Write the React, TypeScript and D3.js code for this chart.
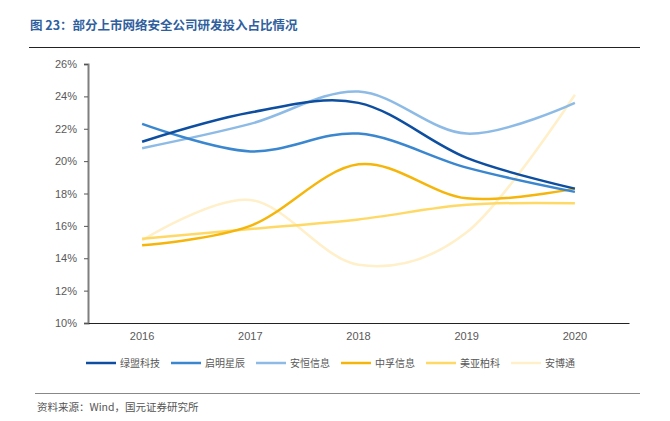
import React, { useEffect, useRef } from 'react';
import * as d3 from 'd3';

const years = ['2016', '2017', '2018', '2019', '2020'];
const seriesNames = ['绿盟科技', '启明星辰', '安恒信息', '中孚信息', '美亚柏科', '安博通'];
const lvmeng = [21.2, 23.0, 23.6, 20.2, 18.3];
const qiming = [22.3, 20.6, 21.7, 19.6, 18.1];
const anheng = [20.8, 22.3, 24.3, 21.7, 23.6];
const zhongfu = [14.8, 16.0, 19.8, 17.7, 18.3];
const meiya = [15.2, 15.8, 16.4, 17.3, 17.4];
const anbotong = [15.1, 17.6, 13.6, 15.6, 24.1];
const yTicks = [10, 12, 14, 16, 18, 20, 22, 24, 26];
const colors = ['#0D4EA0', '#3A87D0', '#8DBBE6', '#F5B50A', '#FFD966', '#FFF0CA'];

const W = 670;
const H = 421;

const App: React.FC = () => {
  const svgRef = useRef<SVGSVGElement>(null);

  useEffect(() => {
    if (!svgRef.current) return;
    const svg = d3.select(svgRef.current);
    svg.selectAll('*').remove();

    const font = 'Arial, "Liberation Sans", "Noto Sans CJK SC", sans-serif';
    const left = 88, right = 629, top = 64, bottom = 323;

    // Title
    svg.append('text')
      .attr('x', 30).attr('y', 30)
      .attr('fill', '#2F5F9E')
      .style('font-family', '"Noto Sans CJK SC", sans-serif')
      .style('font-size', '12.5px')
      .style('font-weight', 'bold')
      .text('图 23：部分上市网络安全公司研发投入占比情况');
    svg.append('line')
      .attr('x1', 29).attr('x2', 640).attr('y1', 47.5).attr('y2', 47.5)
      .attr('stroke', '#222').attr('stroke-width', 1.2);

    const x = d3.scaleBand().domain(years).range([left, right]);
    const y = d3.scaleLinear().domain([10, 26]).range([bottom, top]);

    // Y axis
    const yAxis = svg.append('g')
      .attr('transform', `translate(${left},0)`)
      .call(d3.axisLeft(y).tickValues(yTicks).tickSize(4).tickPadding(7).tickFormat(d => `${d}%`));
    yAxis.select('.domain').attr('stroke', '#7f7f7f').attr('stroke-width', 2);
    yAxis.selectAll('.tick line').attr('stroke', '#555');
    yAxis.selectAll('.tick text')
      .attr('fill', '#595959')
      .style('font-family', font)
      .style('font-size', '11px');

    // X axis
    const xAxis = svg.append('g')
      .attr('transform', `translate(0,${bottom})`)
      .call(d3.axisBottom(x).tickSize(0).tickPadding(9));
    xAxis.select('.domain').attr('stroke', '#222').attr('stroke-width', 1.2);
    xAxis.selectAll('.tick text')
      .attr('fill', '#595959')
      .style('font-family', font)
      .style('font-size', '11px');

    const all = [lvmeng, qiming, anheng, zhongfu, meiya, anbotong];
    const line = d3.line<number>()
      .x((_, i) => (x(years[i]) as number) + x.bandwidth() / 2)
      .y(d => y(d))
      .curve(d3.curveCardinal.tension(0));

    // draw lighter ones first so dark ones stay on top
    [5, 4, 3, 2, 1, 0].forEach(k => {
      svg.append('path')
        .datum(all[k])
        .attr('fill', 'none')
        .attr('stroke', colors[k])
        .attr('stroke-width', 2.5)
        .attr('d', line);
    });

    // Legend
    const lg = svg.append('g').attr('transform', 'translate(86,363)');
    seriesNames.forEach((name, i) => {
      const g = lg.append('g').attr('transform', `translate(${i * 85},0)`);
      g.append('line')
        .attr('x1', 0).attr('x2', 30).attr('y1', 0).attr('y2', 0)
        .attr('stroke', colors[i]).attr('stroke-width', 2.5);
      g.append('text')
        .attr('x', 34).attr('y', 4)
        .attr('fill', '#595959')
        .style('font-family', '"Noto Sans CJK SC", sans-serif')
        .style('font-size', '10px')
        .text(name);
    });

    // Footer
    svg.append('line')
      .attr('x1', 35).attr('x2', 640).attr('y1', 393.5).attr('y2', 393.5)
      .attr('stroke', '#888').attr('stroke-width', 1);
    svg.append('text')
      .attr('x', 37).attr('y', 411)
      .attr('fill', '#555')
      .style('font-family', '"Noto Sans CJK SC", sans-serif')
      .style('font-size', '10.5px')
      .text('资料来源：Wind，国元证券研究所');
  }, []);

  return (
    <svg ref={svgRef} width={W} height={H}
      style={{ position: 'absolute', left: 0, top: 0, background: '#fff' }} />
  );
};

export default App;
